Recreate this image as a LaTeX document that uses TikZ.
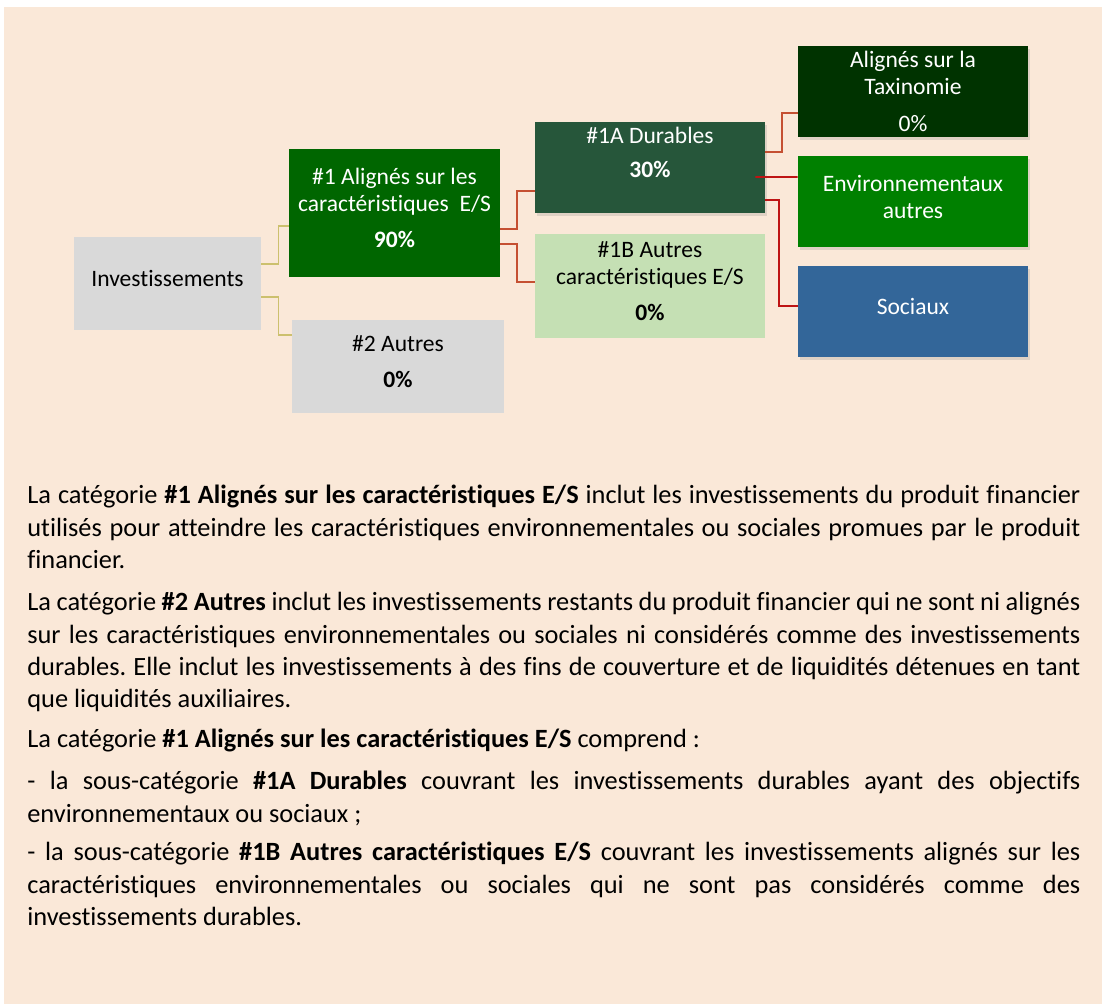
\documentclass[tikz,border=0pt]{standalone}
\usepackage{fontspec}
\setmainfont{Carlito}[Ligatures=CommonOff]
\usetikzlibrary{shadows}

\definecolor{fond}{RGB}{250,232,216}
\definecolor{gris}{RGB}{217,217,217}
\definecolor{vertES}{RGB}{0,102,0}
\definecolor{vertDur}{RGB}{38,86,58}
\definecolor{vertAutres}{RGB}{197,224,180}
\definecolor{vertTaxo}{RGB}{0,51,0}
\definecolor{vertEnv}{RGB}{0,128,0}
\definecolor{bleuSoc}{RGB}{51,102,153}
\definecolor{kaki}{RGB}{204,192,110}
\definecolor{rouille}{RGB}{197,80,50}
\definecolor{rouge}{RGB}{190,20,20}

\hyphenpenalty=10000
\exhyphenpenalty=10000
\tolerance=9999
\emergencystretch=2em
\frenchspacing

\tikzset{
  boite/.style={rectangle, inner sep=0pt, align=center, text depth=2mm,
    font=\fontsize{13.4}{15.3}\selectfont},
  ombre/.style={drop shadow={shadow xshift=1.2pt, shadow yshift=-1.8pt, opacity=0.22}},
  lienkaki/.style={draw=kaki, line width=0.8pt},
  lienrouille/.style={draw=rouille, line width=1.1pt},
  lienrouge/.style={draw=rouge, line width=1.1pt},
  para/.style={anchor=base west, inner sep=0pt, text width=21.06cm, align=justify,
    font=\fontsize{15}{18.4}\selectfont\frenchspacing}
}

\begin{document}
\begin{tikzpicture}
    \useasboundingbox (0,0) rectangle (22.04,20.08);
    \fill[fond] (0.08,0) rectangle (22.04,19.94);

    % Boxes of the tree
    \node[boite, fill=gris, minimum width=3.74cm, minimum height=1.86cm] (inv) at (3.35,14.41) {Investissements};
    \node[boite, fill=vertES, text=white, minimum width=4.22cm, minimum height=2.56cm] (one) at (7.89,15.82)
        {\#1 Alignés sur les\\caractéristiques~ E/S\\[5.5pt]\textbf{90\%}};
    \node[boite, fill=gris, minimum width=4.24cm, minimum height=1.86cm] (two) at (7.96,12.75)
        {\#2 Autres\\[5.5pt]\textbf{0\%}};
    \node[boite, fill=vertDur, ombre, minimum width=4.6cm, minimum height=1.82cm] (dura) at (13.0,16.73) {};
    \node[boite, text=white, text depth=, anchor=north] (dura-txt) at ([yshift=-0.1cm]dura.north)
        {\#1A Durables\\[4pt]\textbf{30\%}};
    \node[boite, fill=vertAutres, minimum width=4.6cm, minimum height=2.08cm] (autr) at (13.0,14.36)
        {\#1B Autres\\caractéristiques E/S\\[5.5pt]\textbf{0\%}};
    \node[boite, fill=vertTaxo, text=white, text depth=, ombre, minimum width=4.6cm, minimum height=1.82cm] (taxo) at (18.26,18.25)
        {Alignés sur la\\Taxinomie\\[5.5pt]0\%};
    \node[boite, fill=vertEnv, text=white, ombre, minimum width=4.6cm, minimum height=1.82cm] (envi) at (18.26,16.05)
        {Environnementaux\\autres};
    \node[boite, fill=bleuSoc, text=white, ombre, minimum width=4.6cm, minimum height=1.82cm] (soci) at (18.26,13.85)
        {Sociaux};

    % Connectors
    \draw[lienkaki] ([yshift=3.9mm]inv.east) -- ++(0.34,0) |- ([yshift=-2.6mm]one.west);
    \draw[lienkaki] ([yshift=-2.7mm]inv.east) -- ++(0.34,0) |- ([yshift=6.3mm]two.west);
    \draw[lienrouille] ([yshift=-3.2mm]one.east) -- ++(0.34,0) |- ([yshift=-4.7mm]dura.west);
    \draw[lienrouille] ([yshift=-6.2mm]one.east) -- ++(0.34,0) |- ([yshift=0.8mm]autr.west);
    \draw[lienrouille] ([yshift=3.1mm]dura.east) -- ++(0.34,0) |- ([yshift=-4.3mm]taxo.west);
    \draw[lienrouge] ([xshift=-2mm,yshift=-1.9mm]dura.east) -- ([yshift=4.9mm]envi.west);
    \draw[lienrouge] ([yshift=-6.5mm]dura.east) -- ++(0.28,0) |- ([yshift=1.1mm]soci.west);

    % Text below
    \node[para] (p1) at (0.54,10.0) {La catégorie \textbf{\#1 Alignés sur les caractéristiques E/S} inclut les investissements du produit financier\linebreak
        utilisés pour atteindre les caractéristiques environnementales ou sociales promues par le produit\linebreak
        financier.};
    \node[para] (p2) at (0.54,7.86) {La catégorie \textbf{\#2 Autres} inclut les investissements restants du produit financier qui ne sont ni alignés\linebreak
        sur les caractéristiques environnementales ou sociales ni considérés comme des investissements\linebreak
        durables. Elle inclut les investissements à des fins de couverture et de liquidités détenues en tant\linebreak
        que liquidités auxiliaires.};
    \node[para] (p3) at (0.54,5.12) {La catégorie \textbf{\#1 Alignés sur les caractéristiques E/S} comprend~:};
    \node[para] (p4) at (0.54,4.28) {- la sous-catégorie \textbf{\#1A Durables} couvrant les investissements durables ayant des objectifs\linebreak
        environnementaux ou sociaux~;};
    \node[para] (p5) at (0.54,2.86) {- la sous-catégorie \textbf{\#1B Autres caractéristiques E/S} couvrant les investissements alignés sur les\linebreak
        caractéristiques environnementales ou sociales qui ne sont pas considérés comme des\linebreak
        investissements durables.};
\end{tikzpicture}
\end{document}
